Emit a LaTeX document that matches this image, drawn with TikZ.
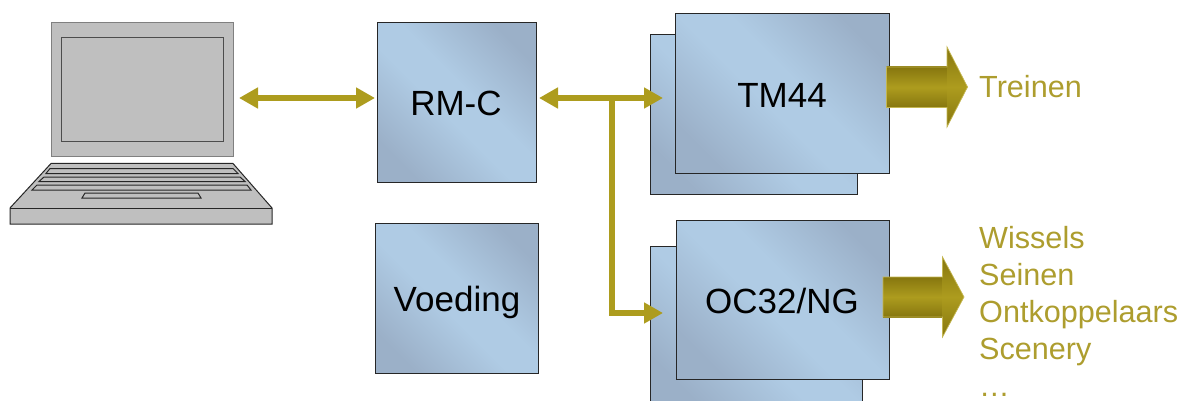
\documentclass[tikz,border=0pt]{standalone}
\usepackage{fontspec}
\setmainfont{Liberation Sans}
\usetikzlibrary{arrows.meta}
\definecolor{olive}{HTML}{AD9C1E}
\definecolor{olivedark}{HTML}{86760F}
\definecolor{oliveline}{HTML}{C4B650}
\definecolor{oltext}{HTML}{AD9D2E}
\definecolor{boxlight}{HTML}{AFCBE4}
\definecolor{boxdark}{HTML}{9BB0C8}
\definecolor{lapfill}{HTML}{BFBFBF}
\pgfdeclareverticalshading{boxband}{100bp}{color(0bp)=(boxdark); color(24bp)=(boxdark); color(45bp)=(boxlight); color(55bp)=(boxlight); color(76bp)=(boxdark); color(100bp)=(boxdark)}
\tikzset{
  modbox/.style={draw=black!85,line width=1pt,inner sep=0pt,outer sep=0pt,
    shading=boxband,shading angle=-45},
  lbl/.style={font=\fontsize{35}{35}\selectfont,text=black,inner sep=0pt},
  outtext/.style={font=\fontsize{30.6}{37}\selectfont,text=oltext,inner sep=0pt,align=left},
  link/.style={draw=olive,line width=5.5pt},
  tiptwo/.style={{Triangle[length=19pt,width=20pt]}-{Triangle[length=19pt,width=20pt]}},
  tipone/.style={-{Triangle[length=19pt,width=20pt]}},
  fat/.style={top color=olivedark,bottom color=olivedark,middle color=olive},
  fatedge/.style={draw=oliveline,line width=0.7pt},
  lapthin/.style={draw=black!85,line width=1pt,fill=lapfill},
  lapsoft/.style={draw=black!50,line width=1pt,fill=lapfill},
}
\begin{document}
\begin{tikzpicture}[x=1pt,y=-1pt]
\useasboundingbox (0,0) rectangle (1186,401);
\clip (0,0) rectangle (1186,401);
% laptop
\node[lapsoft,minimum width=182pt,minimum height=134pt,inner sep=0pt,outer sep=0pt] (screen) at (142,90) {};
\node[draw=black!70,line width=1pt,fill=lapfill,minimum width=162pt,minimum height=104pt,inner sep=0pt] (display) at (142,90) {};
\draw[lapthin] (51,163.5) -- (233,163.5) -- (272,208) -- (272,224) -- (10,224) -- (10,208) -- cycle;
\draw[lapthin] (10,208) -- (272,208);
\draw[lapthin] (50,168.5) -- (233,168.5) -- (238,173.5) -- (46,173.5) -- cycle;
\draw[lapthin] (44,177) -- (240,177) -- (245,181.5) -- (39,181.5) -- cycle;
\draw[lapthin] (37,185) -- (247,185) -- (251,190) -- (32,190) -- cycle;
\draw[lapthin] (85,193) -- (198,193) -- (201,198) -- (82,198) -- cycle;
% boxes
\node[modbox,minimum width=159pt,minimum height=159pt] (rmc) at (456.5,102.5) {};
\node[lbl] at (456,103.5) {RM-C};
\node[modbox,minimum width=163pt,minimum height=150pt] (voeding) at (456.5,298) {};
\node[lbl] at (457,302.5) {Voeding};
\node[modbox,minimum width=207pt,minimum height=159pt] (tmback) at (753.5,114.5) {};
\node[modbox,minimum width=214pt,minimum height=159pt] (tm) at (782,93.5) {};
\node[lbl] at (782,95) {TM44};
\node[modbox,minimum width=212pt,minimum height=159pt] (ocback) at (756,325.5) {};
\node[modbox,minimum width=213pt,minimum height=159pt] (oc) at (782.5,299.5) {};
\node[lbl] at (782,301) {OC32/NG};
% thin connectors
\coordinate (lapR) at (239,98);
\coordinate (rmcL) at (375,98);
\coordinate (rmcR) at (539,98);
\coordinate (tmL) at (663,98);
\coordinate (junc) at (612,98);
\coordinate (ocL) at (663,313);
\draw[link,tiptwo] (lapR) -- (rmcL);
\draw[link,tiptwo] (rmcR) -- (tmL);
\draw[link,tipone] (junc) |- (ocL);
% fat arrows
\shade[fat] (886.5,67) rectangle (947.5,107.5);
\shade[fat] (947,47) -- (967.5,87) -- (947,127) -- cycle;
\draw[fatedge] (886.5,67) -- (947,67) -- (947,47) -- (967.5,87) -- (947,127) -- (947,107.5) -- (886.5,107.5) -- cycle;
\shade[fat] (883,277) rectangle (943,317);
\shade[fat] (942.5,257) -- (964,297) -- (942.5,337) -- cycle;
\draw[fatedge] (883,277) -- (942.5,277) -- (942.5,257) -- (964,297) -- (942.5,337) -- (942.5,317) -- (883,317) -- cycle;
% texts
\node[outtext,anchor=base west] (treinen) at (979,98) {Treinen};
\node[outtext,anchor=west] (outs) at (979,311) {Wissels\\Seinen\\Ontkoppelaars\\Scenery\\…};
\end{tikzpicture}
\end{document}
